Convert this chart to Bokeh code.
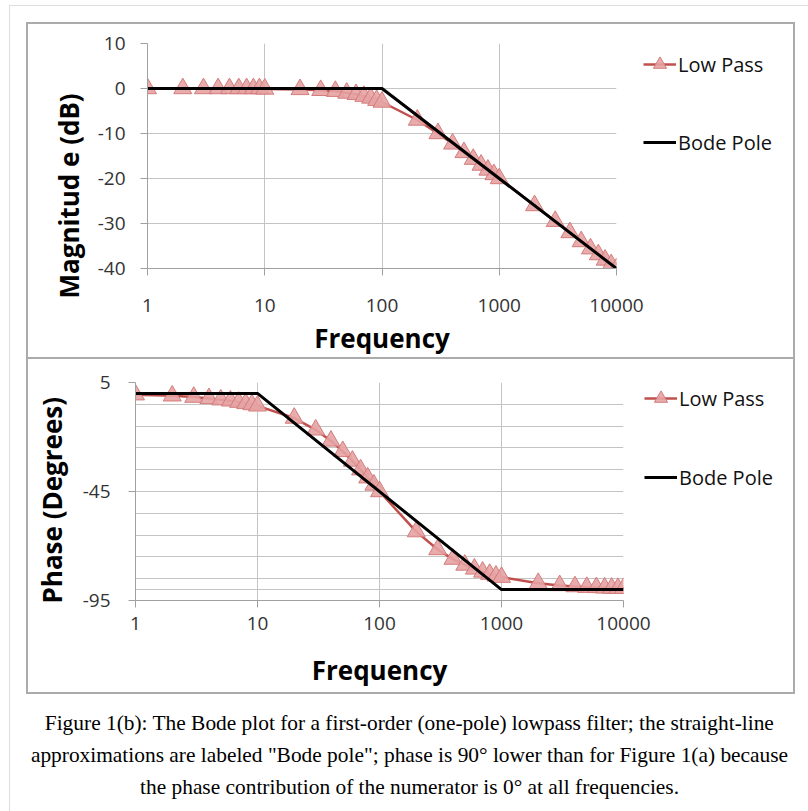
from bokeh.plotting import figure
from bokeh.layouts import column
from bokeh.models import Range1d, FixedTicker, Legend, LegendItem, Label, Title
from bokeh.embed import file_html
from bokeh.resources import INLINE

# ---------------- data ----------------
freq = [1, 2, 3, 4, 5, 6, 7, 8, 9, 10,
        20, 30, 40, 50, 60, 70, 80, 90, 100,
        200, 300, 400, 500, 600, 700, 800, 900, 1000,
        2000, 3000, 4000, 5000, 6000, 7000, 8000, 9000, 10000]
mag_low_pass = [0.0, 0.0, 0.0, 0.0, 0.0, 0.0, 0.0, 0.0, 0.0, -0.1,
                -0.2, -0.4, -0.6, -1.0, -1.3, -1.7, -2.1, -2.6, -3.0,
                -7.0, -10.0, -12.3, -14.2, -15.7, -17.0, -18.1, -19.1, -20.0,
                -26.0, -29.5, -32.0, -34.0, -35.6, -36.9, -38.1, -39.1, -40.0]
phase_low_pass = [-0.6, -1.1, -1.7, -2.3, -2.9, -3.4, -4.0, -4.6, -5.1, -5.7,
                  -11.3, -16.7, -21.8, -26.6, -31.0, -35.0, -38.7, -42.0, -45.0,
                  -63.4, -71.6, -76.0, -78.7, -80.5, -81.9, -82.9, -83.7, -84.3,
                  -87.1, -88.1, -88.6, -88.9, -89.0, -89.2, -89.3, -89.4, -89.4]
mag_bode_freq = [1, 100, 10000]
mag_bode = [0, 0, -40]
phase_bode_freq = [1, 10, 1000, 10000]
phase_bode = [0, 0, -90, -90]

x_ticks = [1, 10, 100, 1000, 10000]
x_tick_labels = ["1", "10", "100", "1000", "10000"]
mag_ticks = [10, 0, -10, -20, -30, -40]
mag_tick_labels = ["10", "0", "-10", "-20", "-30", "-40"]
phase_ticks = [5, -45, -95]
phase_tick_labels = ["5", "-45", "-95"]
phase_grid = [5, -5, -15, -25, -35, -45, -55, -65, -75, -85, -90, -95]

caption_lines = [
    "Figure 1(b): The Bode plot for a first-order (one-pole) lowpass filter; the straight-line",
    "approximations are labeled \"Bode pole\"; phase is 90\u00b0 lower than for Figure 1(a) because",
    "the phase contribution of the numerator is 0\u00b0 at all frequencies.",
]

FONT = "Open Sans"
RED = "#C0504D"
MFILL = "#E5A3A3"
MLINE = "#D47C7C"
GRID = "#C4C4C4"
AXIS = "#A0A0A0"
BOX = "#ABABAB"
FRAME = "#DDDDDD"


def strip(color, x, y, w, h):
    return f"linear-gradient({color},{color}) {x}px {y}px / {w}px {h}px no-repeat"


def make_chart(height, left, right, top, bottom, yr, ytitle, ytitle_offset, ylist,
               bode_f, bode_y, yticks, ylabels, ygrid, xlab_standoff, xtitle_standoff,
               ylab_standoff, ytitle_standoff, legend_xy, legend_spacing, bg):
    p = figure(width=808, height=height, x_axis_type="log",
               frame_width=right - left, frame_height=bottom - top,
               x_range=Range1d(1, 10000), y_range=Range1d(*yr),
               output_backend="svg", toolbar_location=None,
               min_border_left=left, min_border_right=808 - right,
               min_border_top=top, min_border_bottom=height - bottom,
               styles={"background": bg})
    p.frame_align = False
    p.outline_line_color = None
    p.background_fill_color = "white"
    p.border_fill_color = None

    # axes
    p.xaxis.ticker = FixedTicker(ticks=x_ticks, minor_ticks=[])
    p.xaxis.major_label_overrides = {t: l for t, l in zip(x_ticks, x_tick_labels)}
    p.yaxis.ticker = FixedTicker(ticks=yticks, minor_ticks=[])
    p.yaxis.major_label_overrides = {t: l for t, l in zip(yticks, ylabels)}
    for ax in (p.xaxis[0], p.yaxis[0]):
        ax.axis_line_color = AXIS
        ax.major_tick_line_color = AXIS
        ax.major_tick_out = 7
        ax.major_tick_in = 0
        ax.minor_tick_line_color = None
        ax.major_label_text_font = FONT
        ax.major_label_text_font_size = "19px"
        ax.major_label_text_color = "#333333"
        ax.axis_label_text_font = FONT
        ax.axis_label_text_font_size = "26px"
        ax.axis_label_text_font_style = "bold"
        ax.axis_label_text_color = "#000000"
    p.xaxis.axis_label = "Frequency"
    p.xaxis.major_label_standoff = xlab_standoff
    p.xaxis.axis_label_standoff = xtitle_standoff
    p.yaxis.major_label_standoff = ylab_standoff

    # y title as a side title (lets it sit off-centre like the reference)
    p.add_layout(Title(text=ytitle, align="left", offset=ytitle_offset,
                       standoff=ytitle_standoff,
                       text_font=FONT, text_font_size="26px", text_font_style="bold",
                       text_color="#000000"), "left")

    # grids
    p.xgrid.ticker = FixedTicker(ticks=x_ticks, minor_ticks=[])
    p.ygrid.ticker = FixedTicker(ticks=ygrid, minor_ticks=[])
    p.xgrid.grid_line_color = GRID
    p.ygrid.grid_line_color = GRID

    # series
    lp_line = p.line(freq, ylist, line_color=RED, line_width=2.5)
    lp_mark = p.scatter(freq, ylist, marker="triangle", size=18,
                        fill_color=MFILL, fill_alpha=0.9, line_color=MLINE, line_width=1)
    bode = p.line(bode_f, bode_y, line_color="black", line_width=3)

    legend = Legend(items=[LegendItem(label="Low Pass", renderers=[lp_line, lp_mark]),
                           LegendItem(label="Bode Pole", renderers=[bode])],
                    location=legend_xy, orientation="vertical",
                    glyph_width=33, glyph_height=36, label_height=36,
                    label_standoff=2, spacing=legend_spacing, padding=0, margin=0,
                    border_line_color=None, background_fill_alpha=0,
                    label_text_font=FONT, label_text_font_size="20px",
                    label_text_color="#111111")
    p.add_layout(legend, "right")
    return p


# backgrounds carrying the chart box outlines and the page frame lines
bg1 = ", ".join([
    strip(BOX, 26, 22, 769, 2), strip(BOX, 26, 22, 2, 336), strip(BOX, 793, 22, 2, 336),
    strip(BOX, 26, 357, 769, 1),
    strip(FRAME, 9, 5, 800, 1), strip(FRAME, 9, 5, 1, 400),
]) + " #ffffff"
bg2 = ", ".join([
    strip(BOX, 26, 0, 769, 1), strip(BOX, 26, 0, 2, 336), strip(BOX, 793, 0, 2, 336),
    strip(BOX, 26, 334, 769, 2),
    strip(FRAME, 9, 0, 1, 400),
]) + " #ffffff"
bg3 = strip(FRAME, 9, 0, 1, 200) + " #ffffff"

# ---- top chart (magnitude) ----
p1 = make_chart(358, 147, 616, 43, 268, (-40, 10), "Magnitud e (dB)", -30,
                mag_low_pass, mag_bode_freq, mag_bode, mag_ticks, mag_tick_labels,
                mag_ticks, 23, 5, 15, 15, (27, 108), 42, bg1)
# ---- bottom chart (phase) ----
p2 = make_chart(336, 135, 623, 24, 242, (-95, 5), "Phase (Degrees)", -3,
                phase_low_pass, phase_bode_freq, phase_bode, phase_ticks,
                phase_tick_labels, phase_grid, 9, 19, 18, 19, (21, 105), 43, bg2)

# ---- caption ----
p3 = figure(width=808, height=117, x_range=Range1d(0, 808), y_range=Range1d(117, 0),
            output_backend="svg", toolbar_location=None,
            min_border=0, min_border_left=0, min_border_right=0,
            min_border_top=0, min_border_bottom=0, styles={"background": bg3})
p3.frame_align = False
p3.axis.visible = False
p3.grid.visible = False
p3.outline_line_color = None
p3.background_fill_color = None
p3.border_fill_color = None
for i, line in enumerate(caption_lines):
    p3.add_layout(Label(x=409, y=28 + 32 * i, text=line, text_align="center",
                        text_baseline="middle", text_font="Liberation Serif",
                        text_font_size="21.4px", text_color="#000000"))

layout = column(p1, p2, p3, spacing=0, styles={"overflow": "hidden"})
open("out.html", "w").write(file_html(layout, INLINE))
